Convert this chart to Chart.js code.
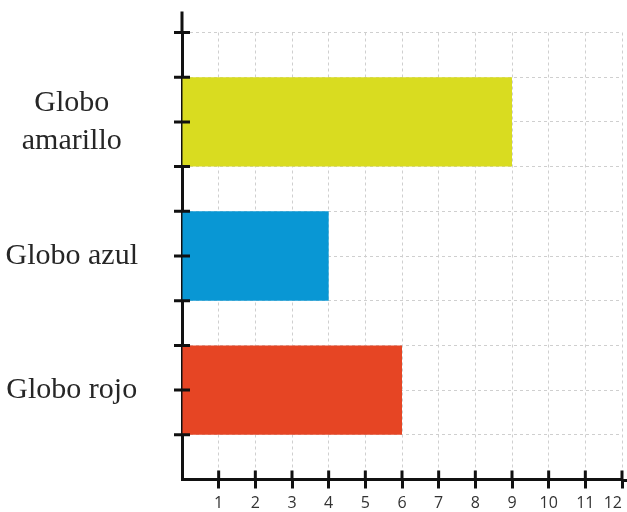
<!DOCTYPE html>
<html>
<head>
<meta charset="utf-8">
<script src="https://cdn.jsdelivr.net/npm/chart.js@4.4.1/dist/chart.umd.min.js"></script>
<style>
  html, body { margin: 0; padding: 0; background: #fff; }
  #wrap { width: 627px; height: 512px; position: relative; }
</style>
</head>
<body>
<div id="wrap"><canvas id="chartGlobos"></canvas></div>
<script>
// ---- datos ----
const CATEGORIES = ['Globo rojo', 'Globo azul', ['Globo', 'amarillo']];
const VALUES = [6, 4, 9];
const POSITIONS = [2, 5, 8];        // centro de cada barra en el eje vertical
const COLORS = ['#e64524', '#0997d4', '#d9dc20'];
const X_TICKS = [1, 2, 3, 4, 5, 6, 7, 8, 9, 10, 11, 12];

// marcas que cruzan el eje + prolongación de los ejes
const crossTicks = {
    id: 'crossTicks',
    afterDraw(chart) {
        const { ctx, chartArea, scales: { x, y } } = chart;
        ctx.save();
        ctx.strokeStyle = '#111';
        ctx.lineWidth = 3;
        ctx.beginPath();
        ctx.moveTo(chartArea.left, chartArea.top);
        ctx.lineTo(chartArea.left, chartArea.top - 21);
        y.ticks.forEach(t => {
            if (t.value <= 0) return;
            const py = y.getPixelForValue(t.value);
            ctx.moveTo(chartArea.left - 8, py);
            ctx.lineTo(chartArea.left + 8, py);
        });
        x.ticks.forEach(t => {
            if (t.value <= 0) return;
            const px = x.getPixelForValue(t.value);
            ctx.moveTo(px, chartArea.bottom);
            ctx.lineTo(px, chartArea.bottom - 9);
        });
        ctx.moveTo(chartArea.right, chartArea.bottom + 1);
        ctx.lineTo(chart.width, chartArea.bottom + 1);
        ctx.stroke();
        ctx.restore();
    }
};

const labelFont = { family: "'Liberation Serif', serif", size: 30, lineHeight: 1.25 };

new Chart(document.getElementById('chartGlobos'), {
    type: 'bar',
    data: {
        datasets: [{
            data: VALUES.map((v, i) => ({ x: v, y: POSITIONS[i] })),
            backgroundColor: COLORS,
            borderWidth: 0,
            categoryPercentage: 1,
            barPercentage: 2,
        }]
    },
    options: {
        indexAxis: 'y',
        responsive: true, maintainAspectRatio: false,
        animation: false,
        layout: { padding: { top: 0, right: 4, left: 0, bottom: 0 } },
        plugins: { legend: { display: false }, tooltip: { enabled: false } },
        scales: {
            x: {
                type: 'linear', min: 0, max: 12,
                ticks: {
                    stepSize: 1, autoSkip: false, padding: 5, maxRotation: 0, align: 'inner',
                    color: '#333', font: { family: "'Open Sans', sans-serif", size: 16 },
                    callback: v => X_TICKS.includes(v) ? String(v) : ''
                },
                grid: {
                    color: '#cfcfcf', lineWidth: 1, tickLength: 9,
                    tickColor: c => c.tick && c.tick.value > 0 ? '#111' : 'rgba(0,0,0,0)',
                    tickWidth: 3
                },
                border: { color: '#111', width: 3, dash: [3, 3] },
                afterFit: s => { s.height = 32; }
            },
            y: {
                type: 'linear', min: 0, max: 10, offset: false,
                ticks: {
                    stepSize: 1, autoSkip: false, padding: 32, crossAlign: 'center',
                    color: '#262626',
                    font: c => (c.tick && POSITIONS.includes(c.tick.value)) ? labelFont : { size: 1, lineHeight: 1 },
                    callback: v => {
                        const i = POSITIONS.indexOf(v);
                        return i >= 0 ? CATEGORIES[i] : '';
                    }
                },
                grid: {
                    offset: false,
                    color: '#cfcfcf', lineWidth: 1, tickLength: 12,
                    tickColor: 'rgba(0,0,0,0)'
                },
                border: { color: '#111', width: 3, dash: [3, 3] },
                afterFit: s => { s.width = 182; }
            }
        }
    },
    plugins: [crossTicks]
});
</script>
</body>
</html>
